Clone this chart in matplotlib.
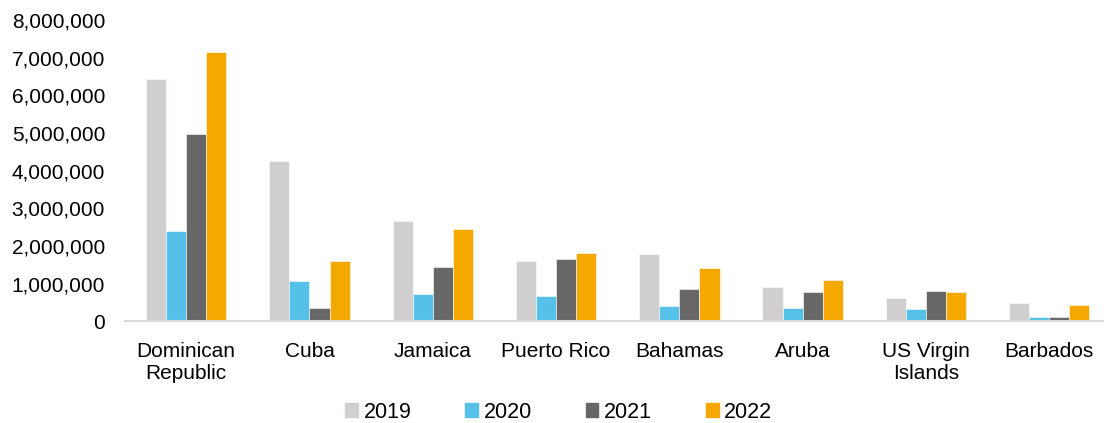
import numpy as np
import matplotlib.pyplot as plt
from matplotlib.patches import Patch
from matplotlib.ticker import FuncFormatter

plt.rcParams['font.family'] = ['Liberation Sans', 'DejaVu Sans']

countries = ["Dominican\nRepublic", "Cuba", "Jamaica", "Puerto Rico", "Bahamas",
             "Aruba", "US Virgin\nIslands", "Barbados"]
years = ["2019", "2020", "2021", "2022"]
v2019 = [6430000, 4270000, 2670000, 1600000, 1790000, 910000, 620000, 500000]
v2020 = [2400000, 1070000, 730000, 670000, 410000, 360000, 330000, 130000]
v2021 = [4980000, 350000, 1450000, 1650000, 870000, 780000, 810000, 110000]
v2022 = [7150000, 1600000, 2460000, 1820000, 1410000, 1090000, 780000, 430000]
colors = ['#D0CECE', '#56C1E8', '#676767', '#F5A800']

fig = plt.figure(figsize=(11.04, 4.23), dpi=100)
ax = fig.add_axes([0.1128, 0.24, 0.8872, 0.7127])

x = np.arange(len(countries))
w = 0.163
for i, vals in enumerate([v2019, v2020, v2021, v2022]):
    ax.bar(x + (i - 1.5) * w, vals, w, color=colors[i], edgecolor='white', linewidth=0.4)

ax.set_xlim(-0.5, 7.444)
ax.set_ylim(0, 8000000)
ax.set_yticks(np.arange(0, 8000001, 1000000))
ax.yaxis.set_major_formatter(FuncFormatter(lambda v, p: "{:,.0f}".format(v)))
ax.set_xticks(x)
ax.set_xticklabels(countries, linespacing=1.2)
ax.tick_params(axis='both', length=0, labelsize=15, colors='black')
ax.tick_params(axis='y', pad=14)
ax.tick_params(axis='x', pad=15)
for s in ['top', 'right', 'left']:
    ax.spines[s].set_visible(False)
ax.spines['bottom'].set_color('#D9D9D9')
ax.spines['bottom'].set_linewidth(1.5)

handles = [Patch(color=c, label=y) for c, y in zip(colors, years)]
fig.legend(handles=handles, loc='center', bbox_to_anchor=(0.506, 0.026), ncol=4,
           frameon=False, fontsize=15.5, handlelength=0.6, handleheight=0.6,
           handletextpad=0.25, columnspacing=2.5)

plt.savefig("out.png", dpi=100)
